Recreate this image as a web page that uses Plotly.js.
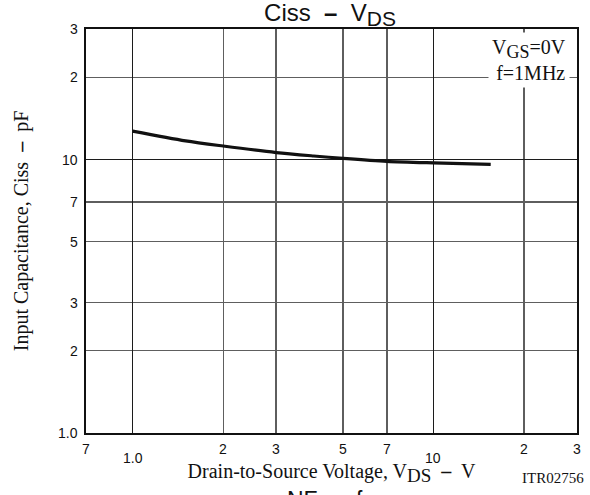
<!DOCTYPE html>
<html>
<head>
<meta charset="utf-8">
<script src="https://cdn.plot.ly/plotly-3.0.1.min.js"></script>
<style>html,body{margin:0;padding:0;background:#fff;}#chart{width:590px;height:495px;}</style>
</head>
<body>
<div id="chart"></div>
<script>
// Data
const vds  = [1.0, 1.5, 2, 3, 4, 5, 7, 10, 15.5];          // V
const ciss = [12.7, 11.7, 11.2, 10.6, 10.3, 10.1, 9.85, 9.72, 9.6]; // pF

const xTickVals = [0.7, 1, 2, 3, 5, 7, 10, 20, 30];
const xTickText = ['7', '1.0', '2', '3', '5', '7', '10', '2', '3'];
const yTickVals = [1, 2, 3, 5, 7, 10, 20, 30];
const yTickText = ['1.0', '2', '3', '5', '7', '10', '2', '3'];

const xRange = [0.7, 30];
const yRange = [1, 30];

const isDecade = v => Math.abs(Math.log10(v) - Math.round(Math.log10(v))) < 1e-9;
const inside = (v, r) => v > r[0] * 1.0001 && v < r[1] / 1.0001;

const sans = 'Liberation Sans, Arial, Helvetica, sans-serif';
const serif = 'Liberation Serif, Times New Roman, serif';
const ink = '#111';
const NB = '\u00A0';
const dash = ' ' + NB + '<b>–</b>' + NB + ' ';

function axisBase(vals, range) {
  return {
    type: 'log',
    range: [Math.log10(range[0]), Math.log10(range[1])],
    tickmode: 'array',
    tickvals: vals.filter(isDecade),
    showticklabels: false,
    ticks: '',
    showgrid: true,
    gridcolor: '#1c1c1c',
    gridwidth: 1.6,
    minor: {
      tickmode: 'array',
      tickvals: vals.filter(v => !isDecade(v) && inside(v, range)),
      showgrid: true,
      gridcolor: '#5e5e5e',
      gridwidth: 1.3,
      ticks: ''
    },
    showline: true,
    mirror: true,
    linecolor: ink,
    linewidth: 2,
    zeroline: false,
    fixedrange: true
  };
}

const xaxis = axisBase(xTickVals, xRange);
xaxis.title = {
  text: 'Drain-to-Source Voltage, V<sub><span style="font-size:19px">DS</span></sub>' + dash + 'V',
  font: {family: serif, size: 20, color: ink},
  standoff: 30
};
xaxis.automargin = false;

const yaxis = axisBase(yTickVals, yRange);
yaxis.title = {
  text: 'Input Capacitance, Ciss' + dash + 'pF',
  font: {family: serif, size: 20, color: ink},
  standoff: 50
};
yaxis.automargin = false;

const annotations = [];
xTickVals.forEach((v, i) => {
  annotations.push({
    x: Math.log10(v), xref: 'x', y: 0, yref: 'paper',
    text: xTickText[i], showarrow: false,
    xanchor: 'center', yanchor: 'top',
    yshift: isDecade(v) ? -15 : -6,
    font: {family: sans, size: 14, color: ink}
  });
});
yTickVals.forEach((v, i) => {
  annotations.push({
    x: 0, xref: 'paper', y: Math.log10(v), yref: 'y',
    text: yTickText[i], showarrow: false,
    xanchor: 'right', yanchor: 'middle', xshift: -6,
    font: {family: sans, size: 14, color: ink}
  });
});
annotations.push({
  x: 1, xref: 'paper', y: 1, yref: 'paper',
  xanchor: 'right', yanchor: 'top', xshift: -7, yshift: -3,
  text: 'V<sub><span style="font-size:18px">GS</span></sub>=0V<br>f=1MHz',
  align: 'right', showarrow: false,
  bgcolor: '#ffffff', borderpad: 3,
  font: {family: serif, size: 20, color: ink}
});
annotations.push({
  x: 1, xref: 'paper', y: 0, yref: 'paper',
  xanchor: 'right', yanchor: 'middle', xshift: 9, yshift: -45,
  text: 'ITR02756', showarrow: false,
  font: {family: serif, size: 15, color: ink}
});
annotations.push({
  x: 0.487, xref: 'paper', y: 0, yref: 'paper',
  xanchor: 'center', yanchor: 'top', yshift: -52,
  text: 'NF' + dash + 'f', showarrow: false,
  font: {family: sans, size: 23, color: ink}
});

const trace = {
  x: vds, y: ciss, type: 'scatter', mode: 'lines',
  line: {color: ink, width: 3.2, shape: 'spline', smoothing: 0.8},
  hoverinfo: 'skip'
};

const layout = {
  width: 590, height: 495,
  margin: {l: 86, r: 13, t: 29, b: 62},
  paper_bgcolor: '#ffffff', plot_bgcolor: '#ffffff',
  showlegend: false,
  title: {
    text: 'Ciss' + dash + 'V<sub><span style="font-size:21px">DS</span></sub>',
    font: {family: sans, size: 24, color: ink},
    x: 330 / 590, xref: 'container', xanchor: 'center',
    y: 1 - 4 / 495, yref: 'container', yanchor: 'top',
    pad: {t: 0, b: 0, l: 0, r: 0}
  },
  xaxis: xaxis,
  yaxis: yaxis,
  annotations: annotations
};

Plotly.newPlot('chart', [trace], layout, {displayModeBar: false, staticPlot: true});
</script>
</body>
</html>
